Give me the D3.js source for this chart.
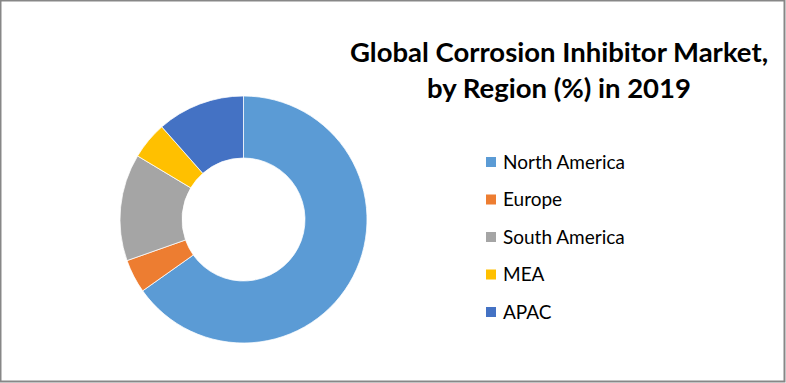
<!DOCTYPE html>
<html>
<head>
<meta charset="utf-8">
<script src="https://cdn.jsdelivr.net/npm/d3@7"></script>
<style>
  body { margin: 0; background: #fff; }
  svg { display: block; font-family: Lato, "Open Sans", sans-serif; }
</style>
</head>
<body>
<svg id="chart" width="786" height="383"></svg>
<script>
// data (share in %)
const regions = ["North America", "Europe", "South America", "MEA", "APAC"];
const shares = [65.2, 4.4, 14.0, 4.9, 11.5];
const colors = ["#5B9BD5", "#ED7D31", "#A5A5A5", "#FFC000", "#4472C4"];
const titleLines = ["Global Corrosion Inhibitor Market,", "by Region (%) in 2019"];

const width = 786, height = 383;
const svg = d3.select("#chart");

// frame
svg.append("rect")
    .attr("x", 0.5).attr("y", 0.5)
    .attr("width", width - 2).attr("height", height - 2)
    .attr("fill", "#fff")
    .attr("stroke", "#878787")
    .attr("stroke-width", 2);

const data = regions.map((r, i) => ({region: r, value: shares[i]}));
const color = d3.scaleOrdinal().domain(regions).range(colors);

const pie = d3.pie().sort(null).value(d => d.value);
const arc = d3.arc().innerRadius(61.5).outerRadius(123.5);

const donut = svg.append("g").attr("transform", "translate(243.5,219.5)");
donut.selectAll("path")
    .data(pie(data))
    .enter().append("path")
    .attr("d", arc)
    .attr("fill", d => color(d.data.region))
    .attr("stroke", "#fff")
    .attr("stroke-width", 0.75);

// title
svg.append("g").selectAll("text")
    .data(titleLines)
    .enter().append("text")
    .attr("x", 559)
    .attr("y", (d, i) => 62 + i * 36)
    .attr("text-anchor", "middle")
    .attr("font-size", 27.5)
    .attr("font-weight", "bold")
    .attr("fill", "#000")
    .text(d => d);

// legend
const legend = svg.append("g").selectAll("g")
    .data(regions)
    .enter().append("g")
    .attr("transform", (d, i) => `translate(486,${162 + i * 37.5})`);

legend.append("rect")
    .attr("x", 0).attr("y", -5)
    .attr("width", 10).attr("height", 10)
    .attr("fill", d => color(d));

legend.append("text")
    .attr("x", 17)
    .attr("y", 0)
    .attr("dy", "0.36em")
    .attr("font-size", 19)
    .attr("fill", "#000")
    .text(d => d);
</script>
</body>
</html>
